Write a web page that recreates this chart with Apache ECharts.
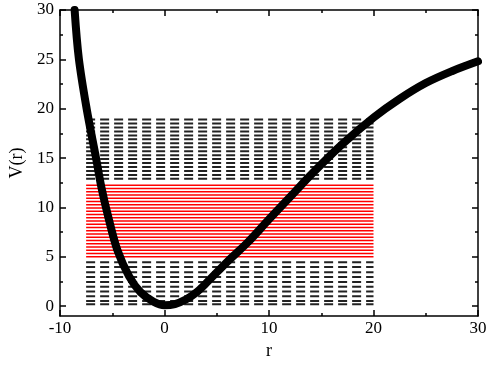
<!DOCTYPE html>
<html>
<head>
<meta charset="utf-8">
<script src="https://cdn.jsdelivr.net/npm/echarts@6/dist/echarts.min.js"></script>
<style>
	html, body { margin: 0; padding: 0; background: #fff; }
	#chart { width: 491px; height: 365px; }
</style>
</head>
<body>
<div id="chart"></div>
<script>
	// potential curve V(r)
	var curveR = [-8.6, -8.2, -7.45, -6.55, -6.05, -5.35, -4.5, -3.4, -2.3, -1.05, 0, 1, 2, 3, 4, 6.1, 8, 10, 12.4, 14.1, 17, 20, 22.5, 25, 27.5, 30];
	var curveV = [30, 25.1, 20, 15, 12.1, 8.9, 5.65, 3.05, 1.43, 0.46, 0.1, 0.22, 0.65, 1.35, 2.35, 4.6, 6.5, 8.8, 11.5, 13.4, 16.4, 19.1, 21.0, 22.6, 23.8, 24.8];

	// energy levels
	var levelFrom = -7.5;
	var levelTo = 20;
	var lowerLevels = [0.19, 0.52, 1.0, 1.49, 1.98, 2.46, 2.95, 3.44, 3.96, 4.45];
	var redLevels = [5.0, 5.33, 5.66, 5.99, 6.32, 6.65, 6.98, 7.31, 7.64, 7.97, 8.3, 8.63, 8.96, 9.29, 9.62, 9.95, 10.28, 10.61, 10.94, 11.27, 11.6, 11.93, 12.26];
	var upperLevels = [12.9, 13.3, 13.7, 14.1, 14.5, 14.9, 15.3, 15.7, 16.1, 16.5, 16.9, 17.3, 17.7, 18.1, 18.5, 18.9];

	// axis ticks
	var yMajor = [0, 5, 10, 15, 20, 25, 30];
	var yMinor = [2.5, 7.5, 12.5, 17.5, 22.5, 27.5];

	var chart = echarts.init(document.getElementById('chart'));
	var font = 'Liberation Serif';

	function levelSeries(levels, color, width, dashed) {
		return levels.map(function (v) {
			return {
				type: 'line',
				data: [[levelFrom, v], [levelTo, v]],
				symbol: 'none',
				silent: true,
				z: 2,
				lineStyle: { color: color, width: width, type: dashed ? [9, 5] : 'solid' }
			};
		});
	}

	function yAx(pos, ticks, len, showLine, labels) {
		return {
			type: 'value',
			position: pos,
			min: -1,
			max: 30,
			axisLine: { show: showLine, onZero: false, lineStyle: { color: '#000', width: 1.5 } },
			axisTick: { show: true, inside: true, length: len, customValues: ticks, lineStyle: { color: '#000', width: 1.5 } },
			axisLabel: { show: labels, customValues: ticks, color: '#000', fontSize: 17, fontFamily: font, margin: 6 },
			splitLine: { show: false },
			name: labels ? 'V(r)' : '',
			nameLocation: 'middle',
			nameGap: 34,
			nameRotate: 90,
			nameTextStyle: { color: '#000', fontSize: 18, fontFamily: font }
		};
	}

	function xAx(pos, labels) {
		return {
			type: 'value',
			position: pos,
			min: -10,
			max: 30,
			interval: 10,
			axisLine: { show: true, onZero: false, lineStyle: { color: '#000', width: 1.5 } },
			axisTick: { show: true, inside: true, length: 6, lineStyle: { color: '#000', width: 1.5 } },
			minorTick: { show: true, splitNumber: 2, length: 3, lineStyle: { color: '#000', width: 1.5 } },
			axisLabel: { show: labels, color: '#000', fontSize: 17, fontFamily: font, margin: 4 },
			splitLine: { show: false },
			minorSplitLine: { show: false },
			name: labels ? 'r' : '',
			nameLocation: 'middle',
			nameGap: 19,
			nameTextStyle: { color: '#000', fontSize: 18, fontFamily: font }
		};
	}

	var curveData = curveR.map(function (r, i) { return [r, curveV[i]]; });

	var series = []
		.concat(levelSeries(lowerLevels, '#222', 2, true))
		.concat(levelSeries(redLevels, '#ff0000', 1.5, false))
		.concat(levelSeries(upperLevels, '#222', 2, true));
	series.push({
		name: 'V(r)',
		type: 'line',
		data: curveData,
		smooth: 0.35,
		symbol: 'none',
		z: 5,
		lineStyle: { color: '#000', width: 8, cap: 'round', join: 'round' }
	});

	chart.setOption({
		animation: false,
		backgroundColor: '#fff',
		grid: { left: 51, right: 13, top: 10, bottom: 37 },
		xAxis: [xAx('bottom', true), xAx('top', false)],
		yAxis: [
			yAx('left', yMajor, 6, true, true),
			yAx('left', yMinor, 3, false, false),
			yAx('right', yMajor, 6, true, false),
			yAx('right', yMinor, 3, false, false)
		],
		series: series
	});
</script>
</body>
</html>
